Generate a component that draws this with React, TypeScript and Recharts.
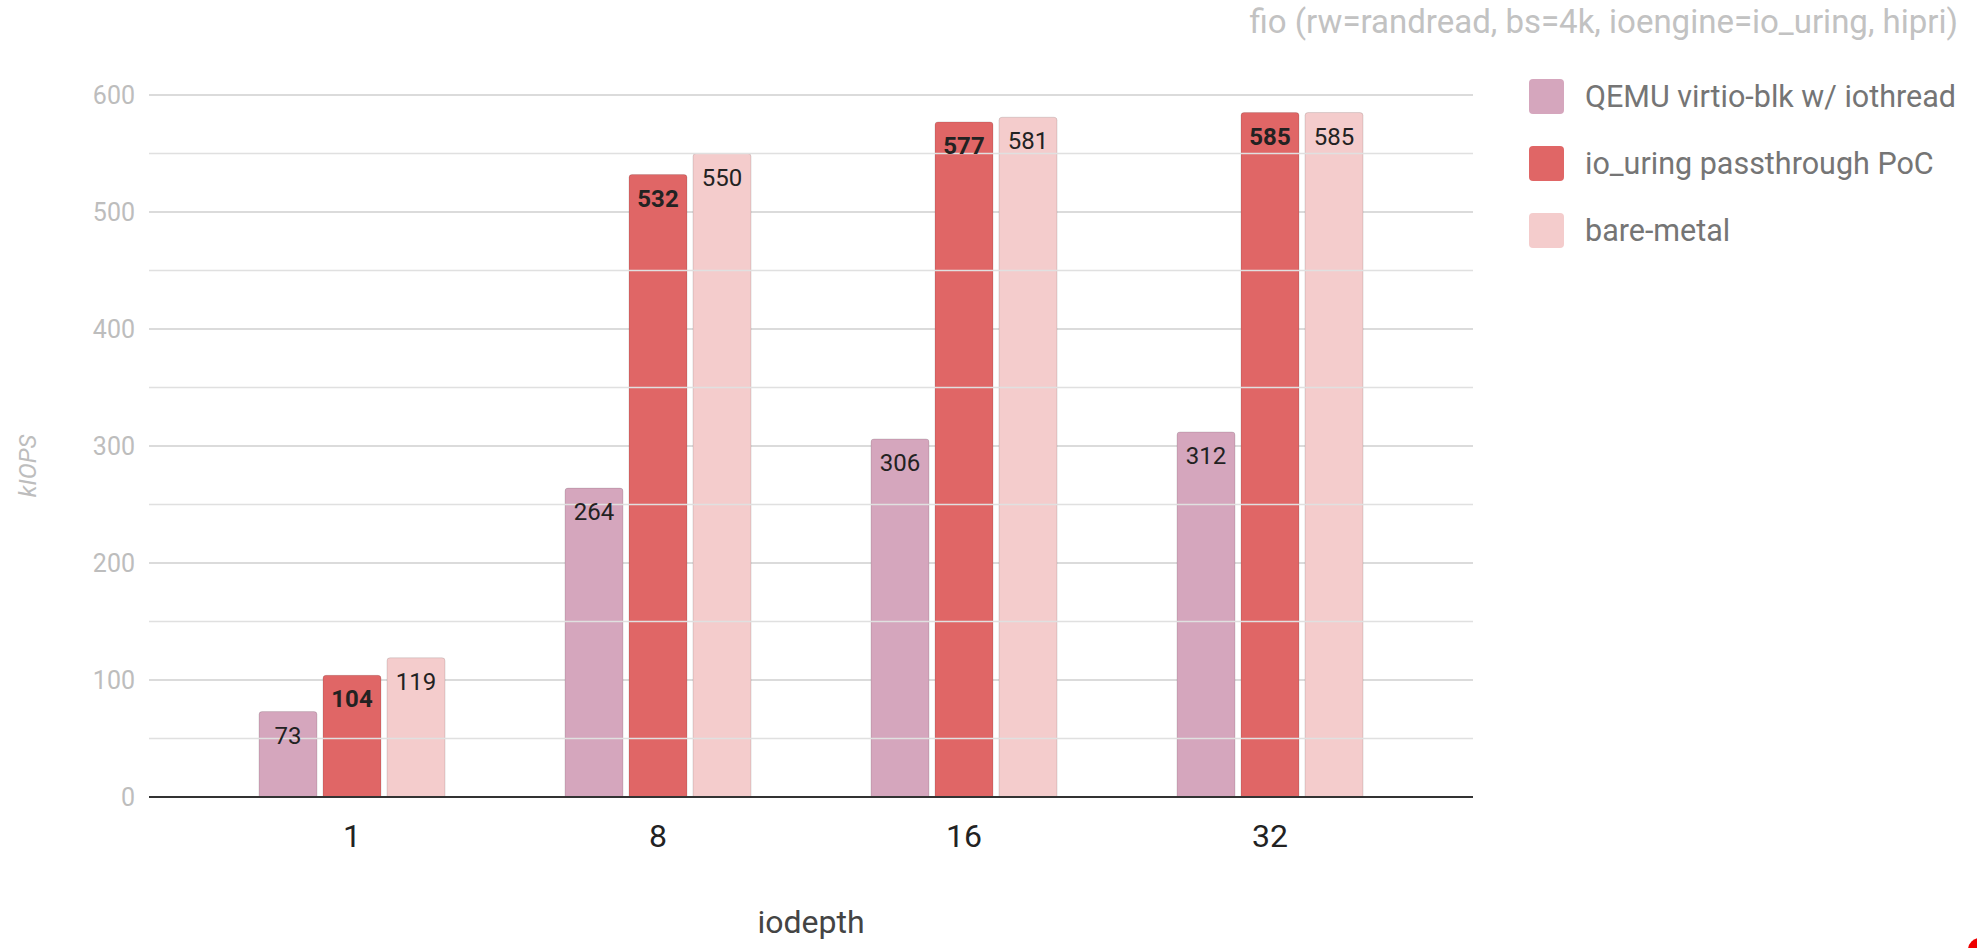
import { BarChart, Bar, XAxis, YAxis, CartesianGrid, ReferenceLine, LabelList } from "recharts";

const iodepths = ["1", "8", "16", "32"];
const qemuVirtio = [73, 264, 306, 312];
const ioUringPassthrough = [104, 532, 577, 585];
const bareMetal = [119, 550, 581, 585];
const majorTicks = [0, 100, 200, 300, 400, 500, 600];
const minorTicks = [50, 150, 250, 350, 450, 550];

const series = [
  { key: "qemu", name: "QEMU virtio-blk w/ iothread", color: "#d5a6bd", bold: false },
  { key: "passthrough", name: "io_uring passthrough PoC", color: "#e06666", bold: true },
  { key: "bare", name: "bare-metal", color: "#f4cccc", bold: false },
];

const chartData = iodepths.map((d, i) => ({
  iodepth: d,
  qemu: qemuVirtio[i],
  passthrough: ioUringPassthrough[i],
  bare: bareMetal[i],
}));

const font = "Roboto, 'Noto Sans', sans-serif";

function KiopsLabel({ viewBox }: any) {
  const x = viewBox.x + 28;
  const y = viewBox.y + viewBox.height / 2 + 20;
  return (
    <text
      x={x}
      y={y}
      transform={`rotate(-90, ${x}, ${y})`}
      textAnchor="middle"
      dominantBaseline="central"
      fill="#bdbdbd"
      fontSize={24}
      fontStyle="italic"
      fontFamily={font}
    >
      kIOPS
    </text>
  );
}

function LegendBox() {
  return (
    <div style={{ position: "absolute", left: 1529, top: 63, fontFamily: font }}>
      {series.map((s) => (
        <div key={s.key} style={{ display: "flex", alignItems: "center", height: 67 }}>
          <span
            style={{
              width: 35,
              height: 35,
              borderRadius: 4,
              background: s.color,
              marginRight: 21,
              display: "inline-block",
            }}
          />
          <span style={{ fontSize: 30.5, color: "#757575", whiteSpace: "nowrap" }}>{s.name}</span>
        </div>
      ))}
    </div>
  );
}

export default function App() {
  return (
    <div style={{ position: "absolute", left: 0, top: 0, width: 1977, height: 948, background: "#fff", overflow: "hidden" }}>
      <div
        style={{
          position: "absolute",
          right: 19,
          top: 2,
          fontFamily: font,
          fontSize: 33,
          color: "#c2c2c2",
          whiteSpace: "nowrap",
        }}
      >
        fio (rw=randread, bs=4k, ioengine=io_uring, hipri)
      </div>
      <BarChart
        width={1977}
        height={948}
        data={chartData}
        margin={{ top: 95, right: 504, bottom: 1, left: 0 }}
        barSize={58}
        barGap={6}
      >
        <CartesianGrid vertical={false} stroke="#cfcfcf" strokeWidth={1.5} />
        {minorTicks.map((t) => (
          <ReferenceLine key={t} y={t} stroke="#e0e0e0" strokeWidth={1.5} />
        ))}
        <XAxis
          dataKey="iodepth"
          height={150}
          padding={{ left: 50, right: 50 }}
          axisLine={{ stroke: "#333", strokeWidth: 2 }}
          tickLine={false}
          tick={{ fill: "#222", fontSize: 32, fontFamily: font }}
          tickMargin={21}
          label={{ value: "iodepth", position: "insideBottom", offset: 14, fill: "#444", fontSize: 32, fontFamily: font }}
        />
        <YAxis
          width={149}
          domain={[0, 600]}
          ticks={majorTicks}
          axisLine={false}
          tickLine={false}
          tickMargin={8}
          tick={{ fill: "#bdbdbd", fontSize: 25, fontFamily: font }}
          label={<KiopsLabel />}
        />
        {series.map((s) => (
          <Bar
            key={s.key}
            dataKey={s.key}
            name={s.name}
            fill={s.color}
            stroke="rgba(0,0,0,0.12)"
            strokeWidth={1}
            radius={[3, 3, 0, 0]}
            isAnimationActive={false}
          >
            <LabelList
              dataKey={s.key}
              position="insideTop"
              offset={15}
              fill="#222"
              fontSize={24}
              fontFamily={font}
              fontWeight={s.bold ? 700 : 400}
            />
          </Bar>
        ))}
      </BarChart>
      <LegendBox />
      <div
        style={{
          position: "absolute",
          left: 1968,
          top: 938,
          width: 24,
          height: 24,
          borderRadius: 12,
          background: "#e00",
        }}
      />
    </div>
  );
}
